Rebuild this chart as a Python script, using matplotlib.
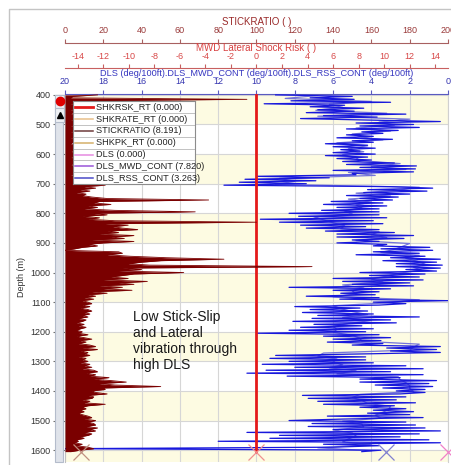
import numpy as np
import matplotlib.pyplot as plt
from matplotlib.lines import Line2D
from matplotlib.patches import Rectangle

plt.rcParams['font.family'] = ['Liberation Sans', 'DejaVu Sans']
plt.rcParams['axes.unicode_minus'] = False

# STICKRATIO, one reading every 5 m from 400 m to 1605 m
sr_depth = np.arange(400, 1606, 5)
sr_vals = [
    17, 4, 3, 95, 4, 6, 3, 5, 4, 6, 3, 5, 4, 3, 6, 4, 5, 3, 6, 4,
    5, 3, 6, 4, 7, 3, 5, 4, 6, 3, 5, 7, 4, 3, 6, 5, 4, 6, 3, 5,
    4, 6, 3, 5, 7, 4, 5, 3, 6, 4, 5, 8, 4, 6, 3, 7, 10, 6, 12, 8,
    12, 21, 10, 16, 8, 13, 6, 11, 9, 14, 22, 75, 18, 15, 24, 12, 17, 10, 26, 68,
    14, 22, 9, 18, 12, 26, 100, 21, 33, 25, 30, 38, 22, 28, 18, 36, 24, 31, 14, 36,
    20, 12, 17, 9, 5, 0, 28, 30, 22, 34, 53, 83, 50, 40, 33, 44, 129, 30, 40, 28,
    62, 36, 30, 24, 33, 20, 43, 28, 36, 18, 30, 20, 35, 14, 22, 12, 16, 10, 15, 9,
    12, 14, 9, 13, 8, 12, 14, 10, 13, 9, 12, 7, 11, 9, 6, 10, 7, 11, 8, 6,
    9, 7, 12, 6, 10, 14, 8, 11, 7, 13, 16, 9, 17, 8, 12, 10, 13, 7, 11, 9,
    12, 8, 13, 10, 14, 9, 15, 17, 11, 16, 13, 23, 15, 24, 32, 18, 26, 50, 20, 21,
    14, 16, 22, 12, 15, 14, 9, 13, 10, 21, 12, 9, 11, 8, 10, 7, 9, 12, 14, 10,
    16, 12, 15, 16, 11, 17, 13, 16, 10, 14, 12, 8, 10, 6, 7, 5, 9, 6, 12, 15,
    8, 3,
]

# DLS_RSS_CONT on the same 5 m grid
rss_vals = [
    9.0, 5.0, 7.2, 4.9, 8.2, 3.0, 9.6, 5.4, 7.2, 4.4, 6.8, 4.9, 7.4, 2.2, 6.5, 3.7, 7.7, 4.2, 0.4, 4.8,
    1.8, 4.6, 1.5, 5.3, 2.6, 4.5, 3.4, 5.3, 3.9, 5.8, 2.9, 5.0, 3.9, 6.4, 4.2, 6.0, 3.8, 5.6, 4.6, 6.0,
    3.8, 6.4, 4.2, 5.8, 4.0, 5.5, 2.8, 5.3, 1.65, 4.6, 1.7, 6.0, 1.8, 5.0, 4.8, 10.0, 6.2, 10.6, 6.9, 10.9,
    7.4, 11.7, 3.0, 0.8, 4.2, 1.1, 4.4, 2.0, 5.3, 2.6, 4.6, 2.9, 6.1, 3.4, 6.5, 3.2, 5.8, 3.6, 6.6, 3.6,
    8.3, 3.6, 7.8, 3.2, 9.8, 3.9, 8.8, 3.4, 7.7, 4.3, 7.4, 3.6, 6.4, 2.8, 5.8, 1.8, 5.8, 2.3, 5.0, 3.6,
    5.8, 3.2, 3.9, 0.95, 3.5, 0.8, 3.9, 1.5, 4.8, 1.2, 3.0, 0.4, 3.4, 0.6, 2.7, 0.3, 2.7, 0.4, 2.2, 0.6,
    4.6, 1.2, 4.1, 1.5, 6.0, 1.3, 5.5, 2.0, 5.0, 1.8, 8.3, 3.0, 6.0, 3.6, 5.6, 3.8, 7.4, 3.6, 5.65, 0.0,
    3.9, 2.2, 3.6, 8.0, 4.6, 7.2, 4.2, 7.6, 3.9, 6.8, 1.5, 7.1, 3.0, 8.1, 2.7, 7.0, 4.5, 7.7, 3.9, 8.3,
    4.3, 10.0, 3.6, 6.5, 3.0, 6.0, 3.5, 6.3, 3.4, 5.0, 0.4, 3.2, 0.6, 3.0, 0.4, 4.5, 9.0, 4.3, 9.3, 4.3,
    8.3, 3.9, 9.7, 2.2, 8.0, 1.3, 9.5, 3.0, 10.5, 1.3, 8.4, 2.5, 4.6, 0.6, 4.6, 1.0, 3.8, 0.8, 3.4, 1.2,
    2.7, 1.2, 2.5, 7.6, 2.2, 7.3, 2.7, 6.8, 1.7, 6.5, 2.8, 4.6, 2.2, 3.9, 1.8, 4.2, 2.0, 6.3, 1.3, 5.5,
    8.3, 2.2, 7.1, 1.7, 7.3, 1.2, 6.0, 0.4, 10.5, 1.5, 8.8, 2.5, 9.3, 1.0, 12.0, 0.4, 6.5, 3.6, 6.0, 20.0,
    3.5, 4.5,
]

# DLS_MWD_CONT, every 10 m
mwd_depth = np.arange(402, 1603, 10)
mwd_vals = [
    6.8, 8.5, 4.0, 6.2, 5.5, 6.9, 3.2, 6.8, 2.0, 3.6,
    2.8, 4.8, 3.0, 5.0, 4.5, 3.4, 5.8, 4.2, 5.2, 4.4,
    5.5, 4.8, 4.6, 2.5, 4.0, 2.2, 5.2, 3.8, 8.8, 8.0,
    9.0, 1.5, 2.6, 4.8, 3.0, 5.2, 4.0, 4.8, 4.5, 5.4,
    5.0, 7.0, 6.5, 6.0, 5.4, 5.6, 3.6, 4.0, 3.2, 4.8,
    2.0, 2.4, 2.8, 3.5, 1.5, 2.2, 1.6, 1.2, 1.8, 1.4,
    2.5, 3.2, 4.0, 3.4, 5.5, 4.4, 5.0, 4.8, 6.0, 1.5,
    3.0, 6.0, 5.6, 5.0, 4.2, 5.5, 4.0, 5.2, 6.0, 5.8,
    6.0, 5.0, 4.6, 4.5, 1.5, 1.8, 2.0, 6.5, 6.8, 5.8,
    6.0, 5.5, 6.2, 4.8, 5.8, 2.6, 2.5, 2.2, 2.0, 2.0,
    1.8, 4.6, 5.0, 4.5, 4.2, 3.0, 3.1, 3.4, 3.8, 3.5,
    5.5, 4.5, 4.4, 6.0, 5.0, 4.8, 5.2, 5.5, 4.0, 6.8,
    4.0,
]

# SHKRSK_RT stays at zero over the whole section
shk_depth = [400, 1605]
shk_vals = [0, 0]

# last readings (shown in legend and as X at the bottom)
legend_names = ['SHKRSK_RT', 'SHKRATE_RT', 'STICKRATIO', 'SHKPK_RT', 'DLS', 'DLS_MWD_CONT', 'DLS_RSS_CONT']
legend_vals = [0.000, 0.000, 8.191, 0.000, 0.000, 7.820, 3.263]
legend_cols = ['#e41a1a', '#e8c08a', '#6e3b3b', '#d4b06a', '#e58ae0', '#9a55d8', '#4a4ac8']
last_depth = 1607

band_starts = [400, 600, 800, 1000, 1200, 1400, 1600]
depth_ticks = list(range(400, 1601, 100))
dls_ticks = list(range(20, -1, -2))
shock_ticks = list(range(-14, 15, 2))
stick_ticks = list(range(0, 201, 20))

W, H = 452, 465
fig = plt.figure(figsize=(W / 100, H / 100), dpi=100)
fig.patch.set_facecolor('white')

# axes box in pixels: x 65..448, y 94..462
ax = fig.add_axes([65 / W, 1 - 462 / H, 383 / W, 368 / H])
ax_shk = ax.twiny()
ax_sr = ax.twiny()

for b in band_starts:
    ax.axhspan(b, b + 100, color='#fdfbe2', lw=0, zorder=0)

ax.set_ylim(1640, 397)
ax.set_xlim(20, 0)
ax.set_yticks(depth_ticks)
ax.set_xticks(dls_ticks)
ax.xaxis.tick_top()
ax.grid(True, color='#d6d6d6', lw=0.8)
ax.set_axisbelow(True)

ax.plot(mwd_vals, mwd_depth, color='#7474da', lw=0.9, zorder=2)
ax.plot(rss_vals, sr_depth, color='#1818dc', lw=0.9, zorder=3)
ax.plot([legend_vals[6]], [last_depth], marker='x', ms=11, mew=0.9, color='#8080d0', clip_on=False, zorder=4)
ax.plot([legend_vals[4]], [last_depth], marker='x', ms=11, mew=0.9, color='#f080c8', clip_on=False, zorder=4)

ax_shk.set_xlim(-15, 15)
ax_shk.set_xticks(shock_ticks)
ax_shk.plot(shk_vals, shk_depth, color='#e41a1a', lw=2)
ax_shk.plot([legend_vals[0]], [last_depth], marker='x', ms=11, mew=0.9, color='#f09090', clip_on=False)

ax_sr.set_xlim(0, 200)
ax_sr.set_xticks(stick_ticks)
ax_sr.fill_betweenx(sr_depth, 0, sr_vals, color='#7a0000', lw=0)
ax_sr.plot(sr_vals, sr_depth, color='#7a0000', lw=0.6)
ax_sr.plot([legend_vals[2]], [last_depth], marker='x', ms=11, mew=0.9, color='#c09080', clip_on=False)

ax.spines['top'].set_color('#5a5ac0')
ax.spines['bottom'].set_visible(False)
ax.spines['left'].set_color('#c0c0c0')
ax.spines['right'].set_color('#d0d0d0')
ax.tick_params(axis='x', colors='#5a5ac0', labelcolor='#3535b0', length=3, pad=2.5, labelsize=6.5)
ax.tick_params(axis='y', colors='#707070', labelcolor='#333333', length=9, width=0.8, pad=1.5, labelsize=6.5)

for a, pos, col, lab in [(ax_shk, 1 + 25.7 / 368, '#c86060', '#d84848'),
                         (ax_sr, 1 + 51.3 / 368, '#a86060', '#9a3a3a')]:
    a.patch.set_visible(False)
    for s in ['bottom', 'left', 'right']:
        a.spines[s].set_visible(False)
    a.spines['top'].set_position(('axes', pos))
    a.spines['top'].set_color(col)
    a.tick_params(axis='x', colors=col, labelcolor=lab, length=3, pad=2.5, labelsize=6.5)

fig.text(256.5 / W, 1 - 22 / H, 'STICKRATIO ( )', ha='center', va='center', fontsize=7, color='#9a2a2a')
fig.text(256.5 / W, 1 - 48 / H, 'MWD Lateral Shock Risk ( )', ha='center', va='center', fontsize=7, color='#d84040')
fig.text(256.5 / W, 1 - 74 / H, 'DLS (deg/100ft).DLS_MWD_CONT (deg/100ft).DLS_RSS_CONT (deg/100ft)',
         ha='center', va='center', fontsize=6.6, color='#3535c0')
fig.text(21 / W, 1 - 277 / H, 'Depth (m)', rotation=90, ha='center', va='center', fontsize=6.5, color='#333333')

fig.text(133 / W, 1 - 341 / H, 'Low Stick-Slip\nand Lateral\nvibration through\nhigh DLS',
         ha='left', va='center', fontsize=10, color='#1a1a1a', linespacing=1.2)

# grey side strip with the two small buttons
fig.patches.append(Rectangle((55 / W, 1 - 462 / H), 8 / W, 367 / H, transform=fig.transFigure,
                             facecolor='#dfe3ea', edgecolor='#b4bccb', lw=0.8))
fig.patches.append(Rectangle((55 / W, 1 - 108 / H), 9 / W, 13 / H, transform=fig.transFigure,
                             facecolor='#eef0f4', edgecolor='#b4bccb', lw=0.8))
fig.patches.append(Rectangle((55 / W, 1 - 122 / H), 9 / W, 14 / H, transform=fig.transFigure,
                             facecolor='#eef0f4', edgecolor='#b4bccb', lw=0.8))
fig.lines.append(Line2D([60 / W], [1 - 101 / H], transform=fig.transFigure, marker='o', ms=6,
                        color='#e00000', ls='none'))
fig.lines.append(Line2D([60 / W], [1 - 115.5 / H], transform=fig.transFigure, marker='^', ms=4.5,
                        color='black', ls='none'))

# outer frame
fig.lines.append(Line2D([9 / W, 9 / W, 1], [0, 1 - 9 / H, 1 - 9 / H], transform=fig.transFigure,
                        color='#c4c4c4', lw=1))

# legend table
row_h = 11.8
leg = fig.add_axes([73 / W, 1 - 184 / H, 122 / W, 82.6 / H], zorder=10)
leg.set_xlim(0, 122)
leg.set_ylim(82.6, 0)
leg.set_xticks([])
leg.set_yticks([])
for s in leg.spines.values():
    s.set_color('#8c8c8c')
    s.set_linewidth(0.8)
for i, (name, val, col) in enumerate(zip(legend_names, legend_vals, legend_cols)):
    yc = (i + 0.5) * row_h
    if i > 0:
        leg.axhline(i * row_h, color='#b8b8b8', lw=0.6)
    leg.plot([2, 20], [yc, yc], color=col, lw=2 if i == 0 else 1.1)
    leg.text(23, yc, '%s (%.3f)' % (name, val), va='center', ha='left', fontsize=6.6, color='#222222')

fig.savefig('out.png', dpi=100)
